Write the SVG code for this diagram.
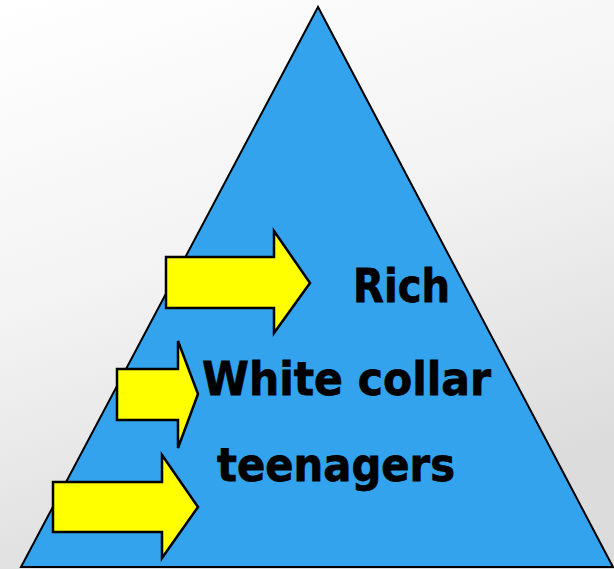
<svg xmlns="http://www.w3.org/2000/svg" width="614" height="569" viewBox="0 0 614 569">
<defs>
<linearGradient id="bg" x1="0" y1="0" x2="0.35" y2="1">
<stop offset="0" stop-color="#ffffff"/>
<stop offset="0.5" stop-color="#f3f3f3"/>
<stop offset="1" stop-color="#dcdcdc"/>
</linearGradient>
</defs>
<style>
.arrow{fill:#ffff00;stroke:#000;stroke-width:2.5;stroke-linejoin:miter}
.lbl{font-family:"DejaVu Sans","Verdana",sans-serif;font-weight:bold;font-size:47px;fill:#000;stroke:#000;stroke-width:0.8}
</style>
<rect width="614" height="569" fill="url(#bg)"/>
<g id="pyramid">
<polygon points="318,7 21,567 613,567" fill="#33a3ee" stroke="#000" stroke-width="2"/>
</g>
<g id="connectors">
<polygon class="arrow" points="166,257 274,257 274,231 310,283 274,333 274,308 166,308"/>
<polygon class="arrow" points="117,369 178,369 178,341 198,394 178,448 178,420 117,420"/>
<polygon class="arrow" points="53,482 162,482 162,455 198,507 162,558 162,532 53,532"/>
</g>
<g id="rich"><text class="lbl" x="353" y="302" textLength="97" lengthAdjust="spacingAndGlyphs">Rich</text></g>
<g id="white-collar"><text class="lbl" x="202" y="395" textLength="289" lengthAdjust="spacingAndGlyphs">White collar</text></g>
<g id="teenagers"><text class="lbl" x="217" y="481" textLength="238" lengthAdjust="spacingAndGlyphs">teenagers</text></g>
</svg>
